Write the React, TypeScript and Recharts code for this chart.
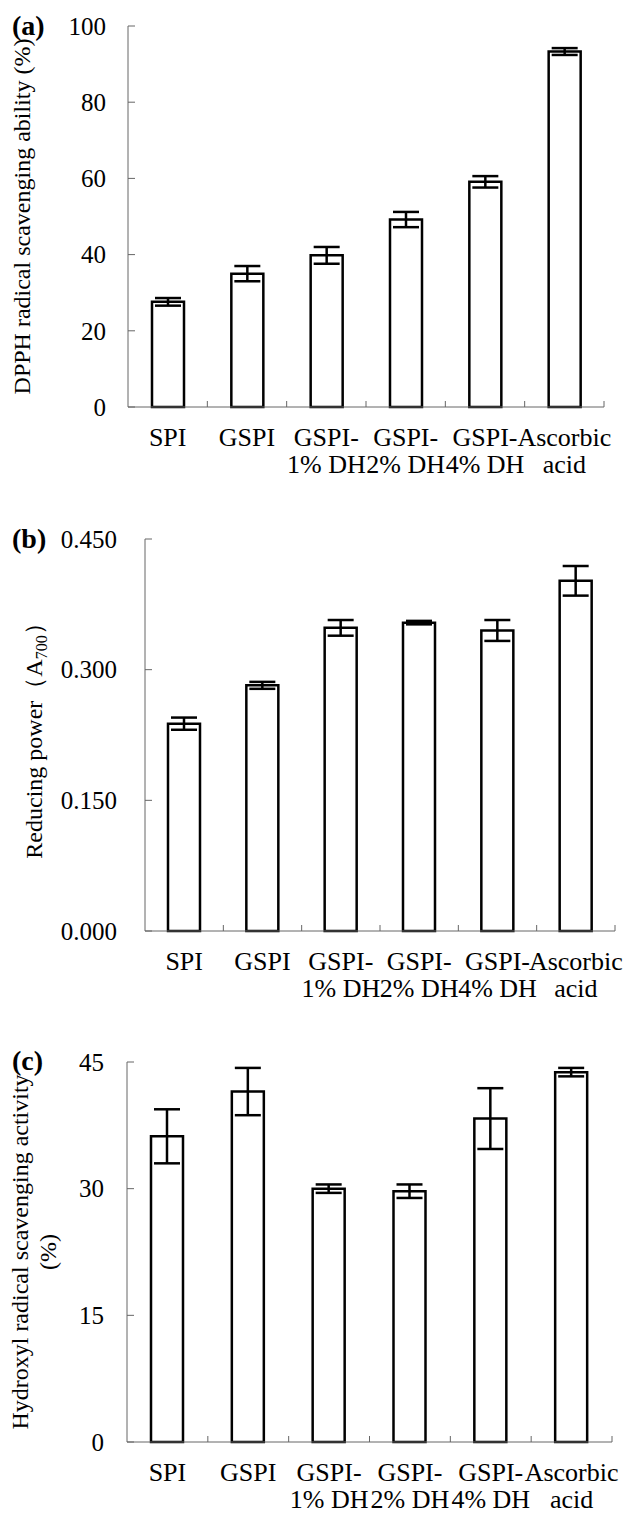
import { Bar, BarChart, ErrorBar, XAxis, YAxis } from "recharts";

const categories = ["SPI", "GSPI", "GSPI-1% DH", "GSPI-2% DH", "GSPI-4% DH", "Ascorbic acid"];
const categoryLines = [["SPI"], ["GSPI"], ["GSPI-", "1% DH"], ["GSPI-", "2% DH"], ["GSPI-", "4% DH"], ["Ascorbic", "acid"]];

const dpph = [27.6, 35.0, 39.8, 49.2, 59.1, 93.3];
const dpphErr = [1.0, 2.0, 2.2, 2.0, 1.5, 0.9];
const dpphTicks = [0, 20, 40, 60, 80, 100];

const reducing = [0.238, 0.282, 0.348, 0.354, 0.345, 0.402];
const reducingErr = [0.007, 0.004, 0.009, 0.002, 0.012, 0.017];
const reducingTicks = [0, 0.15, 0.3, 0.45];

const hydroxyl = [36.2, 41.5, 30.0, 29.7, 38.3, 43.8];
const hydroxylErr = [3.2, 2.8, 0.5, 0.8, 3.6, 0.5];
const hydroxylTicks = [0, 15, 30, 45];

const FONT = "'Liberation Serif', 'Times New Roman', serif";
const AXIS = "#666";

const rows = (vals: number[], errs: number[]) =>
  categories.map((c, i) => ({ name: c, value: vals[i], err: errs[i] }));

function CatTick({ x, y, payload, band }: any) {
  const lines = categoryLines[payload.index] ?? [payload.value];
  return (
    <g>
      <line x1={x + band / 2} x2={x + band / 2} y1={y} y2={y - 6} stroke={AXIS} strokeWidth={1} />
      <text x={x} y={y + 39} textAnchor="middle" fontSize={26} fontFamily={FONT} fill="#000">
        {lines.map((l: string, i: number) => (
          <tspan key={i} x={x} dy={i === 0 ? 0 : 27}>{l}</tspan>
        ))}
      </text>
    </g>
  );
}

function ValTick({ x, y, payload, gap, fmt }: any) {
  return (
    <g>
      <line x1={x} x2={x + 7} y1={y} y2={y} stroke={AXIS} strokeWidth={1} />
      <text x={x - gap} y={y} dy="0.35em" textAnchor="end" fontSize={25} fontFamily={FONT} fill="#000">
        {fmt(payload.value)}
      </text>
    </g>
  );
}

type PanelProps = {
  tag: string;
  top: number;
  height: number;
  margin: { top: number; right: number; left: number; bottom: number };
  data: { name: string; value: number; err: number }[];
  ticks: number[];
  fmt: (v: number) => string;
  gap: number;
  title: string[];
  titleX: number;
  tagY: number;
  sub?: boolean;
};

function Panel({ tag, top, height, margin, data, ticks, fmt, gap, title, titleX, tagY, sub }: PanelProps) {
  const width = 624;
  const band = (width - margin.left - margin.right) / data.length;
  const titleContent = ({ viewBox }: any) => {
    const cy = viewBox.y + viewBox.height / 2;
    return (
      <g>
        <text x={12} y={tagY} fontSize={28} fontWeight="bold" fontFamily={FONT} fill="#000">({tag})</text>
        <text
          x={titleX}
          y={cy}
          transform={`rotate(-90, ${titleX}, ${cy})`}
          textAnchor="middle"
          dy="0.35em"
          fontSize={24}
          fontFamily={FONT}
          fill="#000"
        >
          {sub ? (
            <>
              {title[0]}
              <tspan fontSize={16} dy={5}>700</tspan>
              <tspan dy={-5}>）</tspan>
            </>
          ) : (
            title.map((t, i) => (
              <tspan key={i} x={titleX} dy={i === 0 ? 0 : 28}>{t}</tspan>
            ))
          )}
        </text>
      </g>
    );
  };
  return (
    <div style={{ position: "absolute", left: 0, top }}>
      <BarChart width={width} height={height} data={data} margin={{ top: margin.top, right: margin.right, left: 0, bottom: margin.bottom }}>
        <XAxis
          dataKey="name"
          height={80}
          interval={0}
          tickSize={0}
          tickMargin={0}
          tickLine={false}
          axisLine={{ stroke: AXIS, strokeWidth: 1 }}
          tick={<CatTick band={band} />}
        />
        <YAxis
          width={margin.left}
          domain={[ticks[0], ticks[ticks.length - 1]]}
          ticks={ticks}
          interval={0}
          tickSize={0}
          tickMargin={0}
          tickLine={false}
          axisLine={{ stroke: AXIS, strokeWidth: 1 }}
          tick={<ValTick gap={gap} fmt={fmt} />}
          label={{ content: titleContent }}
        />
        <Bar dataKey="value" fill="#fff" stroke="#000" strokeWidth={2.5} barSize={32} isAnimationActive={false}>
          <ErrorBar dataKey="err" width={13} stroke="#000" strokeWidth={2.5} direction="y" />
        </Bar>
      </BarChart>
    </div>
  );
}

export default function App() {
  return (
    <div style={{ position: "absolute", left: 0, top: 0, width: 624, height: 1515, background: "#fff" }}>
      <Panel
        tag="a"
        top={0}
        height={510}
        margin={{ top: 26, right: 20, left: 128, bottom: 23 }}
        data={rows(dpph, dpphErr)}
        ticks={dpphTicks}
        fmt={(v) => String(v)}
        gap={22}
        title={["DPPH radical scavenging ability (%)"]}
        titleX={30}
        tagY={35}
      />
      <Panel
        tag="b"
        top={510}
        height={520}
        margin={{ top: 29, right: 9, left: 145, bottom: 19 }}
        data={rows(reducing, reducingErr)}
        ticks={reducingTicks}
        fmt={(v) => v.toFixed(3)}
        gap={28}
        title={["Reducing power（A"]}
        titleX={34}
        tagY={38}
        sub
      />
      <Panel
        tag="c"
        top={1030}
        height={485}
        margin={{ top: 32, right: 12, left: 127, bottom: -7 }}
        data={rows(hydroxyl, hydroxylErr)}
        ticks={hydroxylTicks}
        fmt={(v) => String(v)}
        gap={23}
        title={["Hydroxyl radical scavenging activity", "(%)"]}
        titleX={28}
        tagY={40}
      />
    </div>
  );
}
